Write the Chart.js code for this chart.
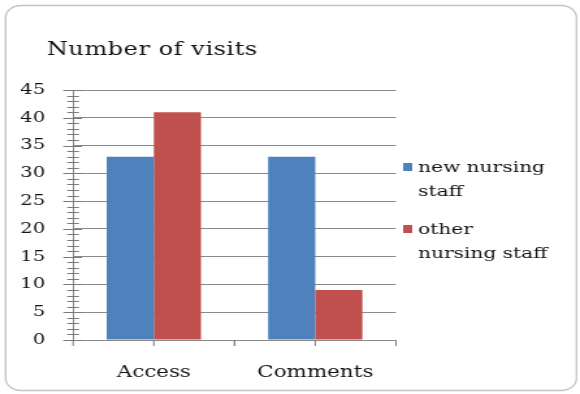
<!DOCTYPE html>
<html>
<head>
<meta charset="utf-8">
<script src="https://cdn.jsdelivr.net/npm/chart.js@4.4.0/dist/chart.umd.min.js"></script>
<style>
  html, body { margin: 0; padding: 0; background: #ffffff; }
  #graph_visits { display: block; width: 580px; height: 394px; }
</style>
</head>
<body>
<!-- the source picture is stretched sideways, so the canvas is too -->
<canvas id="graph_visits" width="446" height="394" style="width:580px;height:394px"></canvas>
<script>
var categories = ["Access", "Comments"];
var seriesNames = [["new nursing", "staff"], ["other", "nursing staff"]];
var newStaff = [33, 33];
var otherStaff = [41, 9];
var yTicks = [0, 5, 10, 15, 20, 25, 30, 35, 40, 45];
var chartTitle = "Number of visits";

var serif = "'DejaVu Serif', 'Liberation Serif', serif";
var gridGray = "#8a8a8a";
var textColor = "#141414";

// frame, title, legend and the small tick marks are drawn here
var decoPlugin = {
    id: "deco",
    beforeDraw: function (chart) {
        var ctx = chart.ctx;
        ctx.save();
        ctx.fillStyle = "#ffffff";
        ctx.fillRect(0, 0, chart.width, chart.height);
        ctx.strokeStyle = "#c4c4c4";
        ctx.lineWidth = 1.3;
        ctx.beginPath();
        ctx.roundRect(4.3, 5.5, 439, 385, [12, 12, 12, 12]);
        ctx.stroke();
        ctx.restore();
    },
    afterDraw: function (chart) {
        var ctx = chart.ctx;
        var x = chart.scales.x, y = chart.scales.y;
        ctx.save();
        ctx.strokeStyle = "#7a7a7a";
        ctx.lineWidth = 1;
        // y ticks, minor every 1, major every 5
        for (var v = y.min; v <= y.max; v++) {
            var py = Math.round(y.getPixelForValue(v)) + 0.5;
            var major = v % 5 === 0;
            ctx.beginPath();
            ctx.moveTo(x.left - (major ? 7.5 : 4.5), py);
            ctx.lineTo(x.left + (major ? 7 : 4.5), py);
            ctx.stroke();
        }
        // x ticks at category edges and centres
        var half = (x.getPixelForValue(1) - x.getPixelForValue(0)) / 2;
        for (var i = 0; i < categories.length; i++) {
            var c = x.getPixelForValue(i);
            [c - half, c, c + half].forEach(function (px) {
                ctx.beginPath();
                ctx.moveTo(px, y.bottom);
                ctx.lineTo(px, y.bottom + 6);
                ctx.stroke();
            });
        }
        // title
        ctx.fillStyle = textColor;
        ctx.font = "18.5px " + serif;
        ctx.letterSpacing = "0.4px";
        ctx.textAlign = "left";
        ctx.textBaseline = "alphabetic";
        ctx.fillText(chartTitle, 36, 55);
        // legend
        ctx.font = "15.5px " + serif;
        ctx.letterSpacing = "0px";
        var top = [163, 225];
        chart.data.datasets.forEach(function (ds, k) {
            ctx.fillStyle = ds.backgroundColor;
            ctx.fillRect(310, top[k], 7, 8);
            ctx.fillStyle = textColor;
            seriesNames[k].forEach(function (line, j) {
                ctx.fillText(line, 321.5, top[k] + 9 + j * 23.5);
            });
        });
        ctx.restore();
    }
};

var ctx = document.getElementById("graph_visits");

var myChart_visits = new Chart(ctx, {
    type: "bar",
    data: {
        labels: categories,
        datasets: [{
            label: seriesNames[0].join(" "),
            backgroundColor: "#4f81bd",
            data: newStaff
        }, {
            label: seriesNames[1].join(" "),
            backgroundColor: "#c0504d",
            data: otherStaff
        }]
    },
    plugins: [decoPlugin],
    options: {
        responsive: false,
        animation: false,
        devicePixelRatio: 1,
        categoryPercentage: 0.584,
        barPercentage: 1.0,
        plugins: {
            legend: { display: false },
            title: { display: false },
            tooltip: { enabled: false }
        },
        layout: {
            padding: { left: 0, right: 141.5, top: 90, bottom: 14 }
        },
        scales: {
            x: {
                afterFit: function (s) { s.height = 40; },
                grid: { display: false },
                border: { display: true, color: gridGray, width: 1 },
                ticks: {
                    color: textColor,
                    padding: 15,
                    font: { family: serif, size: 16.5 }
                }
            },
            y: {
                min: 0,
                max: 45,
                afterFit: function (s) { s.width = 56.2; },
                afterBuildTicks: function (s) {
                    s.ticks = yTicks.map(function (v) { return { value: v }; });
                },
                grid: { color: gridGray, drawTicks: false },
                border: { display: true, color: gridGray, width: 1 },
                ticks: {
                    color: textColor,
                    padding: 21.5,
                    font: { family: serif, size: 15 }
                }
            }
        }
    }
});
</script>
</body>
</html>
